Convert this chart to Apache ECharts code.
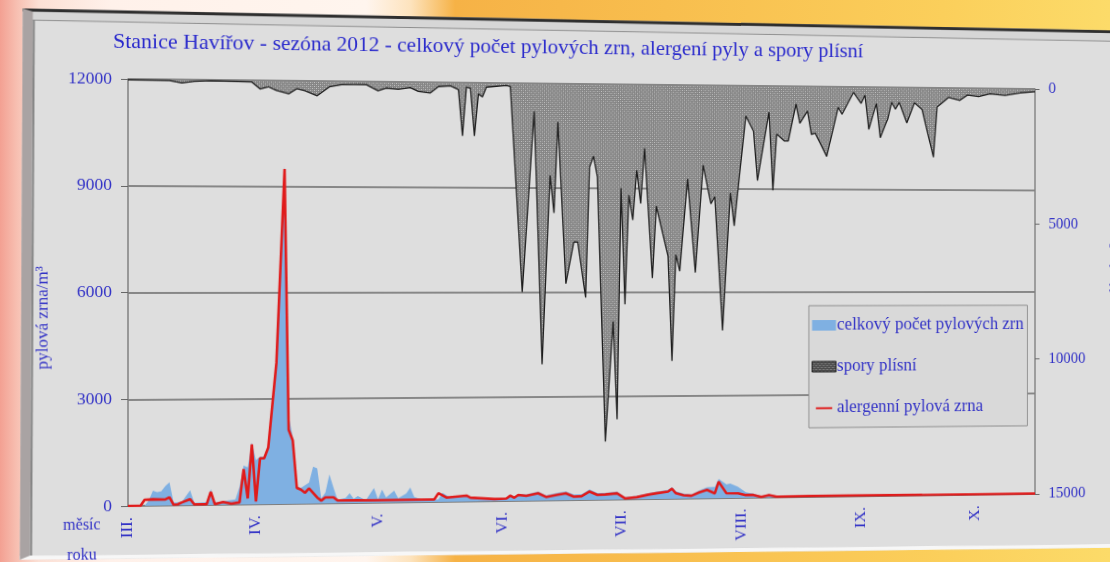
<!DOCTYPE html>
<html>
<head>
<meta charset="utf-8">
<title>Stanice Havířov - sezóna 2012</title>
<script src="https://cdn.jsdelivr.net/npm/echarts@6.0.0/dist/echarts.min.js"></script>
<style>
  html, body { margin: 0; padding: 0; width: 1110px; height: 562px; overflow: hidden; }
  body {
    position: relative;
    background: linear-gradient(90deg, #f3a092 0%, #f7bfb1 1.5%, #fce0d5 3.5%, #fff1ea 10%, #fff5ee 33%, #fde3bd 37%, #f6b246 41%, #f8be4e 60%, #fbcf5b 85%, #fcdb69 100%);
  }
  #slide { position: absolute; left: 0; top: 0; width: 1220px; height: 600px; transform-origin: 0 0; }
  #frame {
    position: absolute; left: 22px; top: 10px; width: 1198px; height: 548px; box-sizing: border-box;
    background: #d6d6d6; border-top: 3px solid #2e2e2e; border-left: 10px solid #a9a3a3; border-bottom: 4px solid #f7f7f7;
    transform-origin: 0 50%; transform: rotate(0.3deg);
  }
  #panel {
    position: absolute; left: 32px; top: 21px; width: 1188px; height: 533px; box-sizing: border-box;
    background: #dedede; border-top: 1px solid #8e8e8e; border-left: 2px solid #858585;
    transform-origin: 0 50%; transform: rotate(0.3deg);
  }
  #chart { position: absolute; left: 0; top: 0; width: 1220px; height: 600px; }
</style>
</head>
<body>
<div id="slide">
  <div id="frame"></div>
  <div id="panel"></div>
  <div id="chart"></div>
</div>
<script>
// Season axis: day index counted from 1 March 2012
const monthStarts = [0, 31, 61, 92, 122, 153, 184, 214];
const monthLabels = ['III.', 'IV.', 'V.', 'VI.', 'VII.', 'VIII.', 'IX.', 'X.'];

// celkový počet pylových zrn [day, grains/m3]
const totalPollen = [
  [0,0],[4,0],[5,150],[6,420],[7,380],[8,400],[9,550],[10,650],[11,80],[13,100],[15,420],[16,60],
  [19,80],[20,450],[21,60],[23,100],[26,150],[27,500],[28,1100],[29,1050],[30,1750],[31,1250],
  [32,1350],[33,1350],[34,1650],[36,4100],[38,9600],[39,2500],[40,1900],[41,500],[42,450],[44,600],
  [45,1050],[46,1000],[47,150],[48,300],[49,820],[50,450],[51,100],[53,150],[54,280],[55,120],
  [56,200],[58,80],[60,420],[61,100],[62,370],[63,150],[65,340],[66,120],[68,250],[69,420],[70,150],
  [72,70],[76,70],[77,260],[79,120],[83,190],[84,120],[90,70],[93,80],[94,180],[95,120],[96,200],
  [98,180],[101,260],[103,150],[106,220],[108,250],[110,160],[112,170],[114,300],[116,200],[118,200],
  [121,230],[123,60],[126,100],[129,170],[131,210],[134,260],[135,340],[136,220],[138,150],[140,120],
  [142,230],[144,320],[146,330],[147,560],[149,400],[150,420],[152,320],[154,160],[156,120],[158,40],
  [160,100],[162,40],[170,40],[180,40],[200,30],[230,20]
];

// alergenní pylová zrna [day, grains/m3]
const allergenicPollen = [
  [0,0],[3,0],[4,170],[6,180],[9,170],[10,230],[11,20],[12,30],[13,80],[15,170],[16,20],[19,20],
  [20,370],[21,20],[23,80],[25,30],[27,60],[28,1000],[29,170],[30,1700],[31,80],[32,1300],[33,1300],
  [34,1600],[36,4000],[38,9500],[39,2100],[40,1800],[41,450],[42,400],[43,310],[44,430],[46,170],
  [47,80],[48,170],[50,170],[51,80],[60,70],[70,70],[75,75],[76,250],[78,120],[83,170],[84,110],
  [90,60],[93,70],[94,150],[95,90],[96,170],[98,140],[101,210],[103,100],[106,160],[108,195],
  [110,100],[112,110],[114,240],[116,140],[118,150],[121,180],[123,30],[126,60],[129,130],[131,165],
  [134,210],[135,290],[136,160],[138,100],[140,80],[142,175],[144,245],[146,140],[147,480],[149,140],
  [152,135],[154,80],[156,80],[158,20],[160,70],[162,20],[170,30],[180,30],[200,20],[230,15]
];

// spory plísní [day, spores/m3]
const moldSpores = [
  [0,30],[10,40],[13,120],[16,60],[20,30],[30,60],[32,300],[34,220],[36,350],[39,460],[41,280],
  [43,350],[46,520],[49,200],[52,120],[58,100],[61,320],[63,220],[66,260],[69,200],[71,330],[74,380],
  [76,150],[79,120],[81,250],[82,1900],[83,150],[84,200],[85,1900],[86,400],[87,500],[88,150],
  [93,80],[94,120],[97,7500],[100,1000],[102,10100],[104,3300],[105,4650],[106,1380],[108,7200],
  [110,5700],[111,5700],[113,7700],[114,3000],[115,2600],[116,3350],[118,12900],[120,8560],
  [121,12100],[122,3750],[123,7950],[124,4000],[125,4900],[126,3100],[127,4300],[128,2300],
  [130,7000],[131,4400],[134,6200],[135,10000],[136,6150],[137,6750],[139,3400],[141,6800],
  [143,2900],[145,4300],[146,4050],[148,8900],[150,3900],[151,5100],[154,1100],[156,1650],
  [157,3450],[160,950],[161,3800],[162,1750],[164,2000],[165,2000],[167,650],[168,1350],[170,900],
  [171,1750],[172,1700],[175,2550],[178,750],[179,1000],[182,200],[184,600],[185,300],[186,1550],
  [188,600],[189,1850],[191,1150],[192,550],[193,800],[194,550],[196,1300],[198,550],[200,800],
  [203,2550],[204,700],[207,350],[210,450],[212,250],[215,300],[218,200],[222,250],[226,150],[230,100]
];

const seriesNames = ['celkový počet pylových zrn', 'spory plísní', 'alergenní pylová zrna'];
const titleText = 'Stanice Havířov - sezóna 2012 - celkový počet pylových zrn, alergení pyly a spory plísní';

const SERIF = '"Liberation Serif", "DejaVu Serif", serif';
const BLUE_TEXT = '#3232c6';

// dotted fill used for the spore area
function dotPattern(base, dot, mid) {
  const c = document.createElement('canvas');
  c.width = 4; c.height = 4;
  const g = c.getContext('2d');
  g.fillStyle = base; g.fillRect(0, 0, 4, 4);
  g.fillStyle = dot; g.fillRect(0, 0, 1, 1); g.fillRect(2, 2, 1, 1);
  g.fillStyle = mid; g.fillRect(2, 0, 1, 1); g.fillRect(0, 2, 1, 1);
  return { image: c, repeat: 'repeat' };
}

// projective tilt of the whole slide (plot corners -> tilted corners)
function homography(src, dst) {
  const A = [], b = [];
  for (let i = 0; i < 4; i++) {
    const [x, y] = src[i], [u, v] = dst[i];
    A.push([x, y, 1, 0, 0, 0, -x * u, -y * u]); b.push(u);
    A.push([0, 0, 0, x, y, 1, -x * v, -y * v]); b.push(v);
  }
  for (let c = 0; c < 8; c++) {
    let p = c;
    for (let r = c + 1; r < 8; r++) if (Math.abs(A[r][c]) > Math.abs(A[p][c])) p = r;
    [A[c], A[p]] = [A[p], A[c]]; [b[c], b[p]] = [b[p], b[c]];
    for (let r = 0; r < 8; r++) {
      if (r === c) continue;
      const f = A[r][c] / A[c][c];
      for (let k = c; k < 8; k++) A[r][k] -= f * A[c][k];
      b[r] -= f * b[c];
    }
  }
  return b.map((v, i) => v / A[i][i]);
}
const GRID = { left: 128, top: 79, width: 956, height: 427 };
const h = homography(
  [[128, 79], [1084, 79], [1084, 506], [128, 506]],
  [[128, 79], [1035, 89], [1035, 494], [128, 506]]
);
document.getElementById('slide').style.transform =
  `matrix3d(${h[0]},${h[3]},0,${h[6]},${h[1]},${h[4]},0,${h[7]},0,0,1,0,${h[2]},${h[5]},0,1)`;

const chart = echarts.init(document.getElementById('chart'), null, { renderer: 'canvas' });

const plain = v => String(v);

chart.setOption({
  animation: false,
  backgroundColor: 'transparent',
  title: {
    text: titleText, left: 108, top: 26,
    textStyle: { fontFamily: SERIF, fontSize: 22, fontWeight: 'normal', color: '#2b2bcc' }
  },
  legend: {
    orient: 'vertical', left: 836, top: 307,
    itemWidth: 26, itemHeight: 11, itemGap: 24,
    padding: [11, 4, 11, 3],
    backgroundColor: '#d9d9d9', borderColor: '#8c8c8c', borderWidth: 1,
    selectedMode: false,
    textStyle: { color: BLUE_TEXT, fontFamily: SERIF, fontSize: 18.5, padding: [0, 0, 0, -4] },
    data: [
      { name: seriesNames[0], icon: 'rect', itemStyle: { color: '#7fb0e2' } },
      { name: seriesNames[1], icon: 'rect', itemStyle: { color: dotPattern('#4a4a4a', '#a8a8a8', '#6e6e6e'), borderColor: '#1e1e1e', borderWidth: 1 } },
      { name: seriesNames[2], icon: 'path://M0,0L0,0M0,6.5L24,6.5L24,9.2L0,9.2ZM24,15L24,15', itemStyle: { color: '#e01b1b' } }
    ]
  },
  graphic: [
    { type: 'text', x: 82, y: 525, style: { text: 'měsíc', align: 'center', verticalAlign: 'middle', font: '16px ' + SERIF, fill: BLUE_TEXT } },
    { type: 'text', x: 82, y: 555, style: { text: 'roku', align: 'center', verticalAlign: 'middle', font: '16px ' + SERIF, fill: BLUE_TEXT } }
  ],
  grid: GRID,
  xAxis: {
    type: 'value', min: 0, max: 230,
    axisLine: { show: true, lineStyle: { color: '#7c7c7c', width: 1.5 } },
    axisTick: { show: false },
    splitLine: { show: false },
    axisLabel: {
      customValues: monthStarts,
      rotate: 90, margin: 11,
      color: BLUE_TEXT, fontFamily: SERIF, fontSize: 17,
      formatter: v => monthLabels[monthStarts.indexOf(v)] || ''
    }
  },
  yAxis: [
    {
      type: 'value', min: 0, max: 12000, interval: 3000,
      axisLine: { show: true, lineStyle: { color: '#808080', width: 1.5 } },
      axisTick: { show: true, length: 7, lineStyle: { color: '#666' } },
      splitLine: { show: true, lineStyle: { color: '#6a6a6a', width: 1.5 } },
      axisLabel: { margin: 16, color: BLUE_TEXT, fontFamily: SERIF, fontSize: 17.5, formatter: plain },
      name: 'pylová zrna/m³', nameLocation: 'middle', nameGap: 76, nameRotate: 90,
      nameTextStyle: { color: BLUE_TEXT, fontFamily: SERIF, fontSize: 17, padding: [0, 50, 0, 0] }
    },
    {
      type: 'value', min: 0, max: 15000, interval: 5000, inverse: true, position: 'right',
      axisLine: { show: true, lineStyle: { color: '#808080', width: 1.5 } },
      axisTick: { show: true, length: 5, lineStyle: { color: '#666' } },
      splitLine: { show: false },
      axisLabel: { margin: 15, color: BLUE_TEXT, fontFamily: SERIF, fontSize: 16.5, formatter: plain },
      name: 'spory plísní/m³', nameLocation: 'middle', nameGap: 82, nameRotate: 90,
      nameTextStyle: { color: BLUE_TEXT, fontFamily: SERIF, fontSize: 17 }
    }
  ],
  series: [
    {
      name: seriesNames[0], type: 'line', yAxisIndex: 0, data: totalPollen,
      showSymbol: false, symbol: 'none',
      lineStyle: { width: 0, color: '#7fb0e2' },
      itemStyle: { color: '#7fb0e2' },
      areaStyle: { color: '#7fb0e2', opacity: 1 },
      z: 2
    },
    {
      name: seriesNames[1], type: 'line', yAxisIndex: 1, data: moldSpores,
      showSymbol: false, symbol: 'none',
      lineStyle: { width: 1.3, color: '#1c1c1c' },
      itemStyle: { color: '#555' },
      areaStyle: { color: dotPattern('#858585', '#c4c4c4', '#a2a2a2'), opacity: 1 },
      z: 3
    },
    {
      name: seriesNames[2], type: 'line', yAxisIndex: 0, data: allergenicPollen,
      showSymbol: false, symbol: 'none',
      lineStyle: { width: 2.6, color: '#e01b1b' },
      itemStyle: { color: '#e01b1b' },
      z: 4
    }
  ]
});
</script>
</body>
</html>
